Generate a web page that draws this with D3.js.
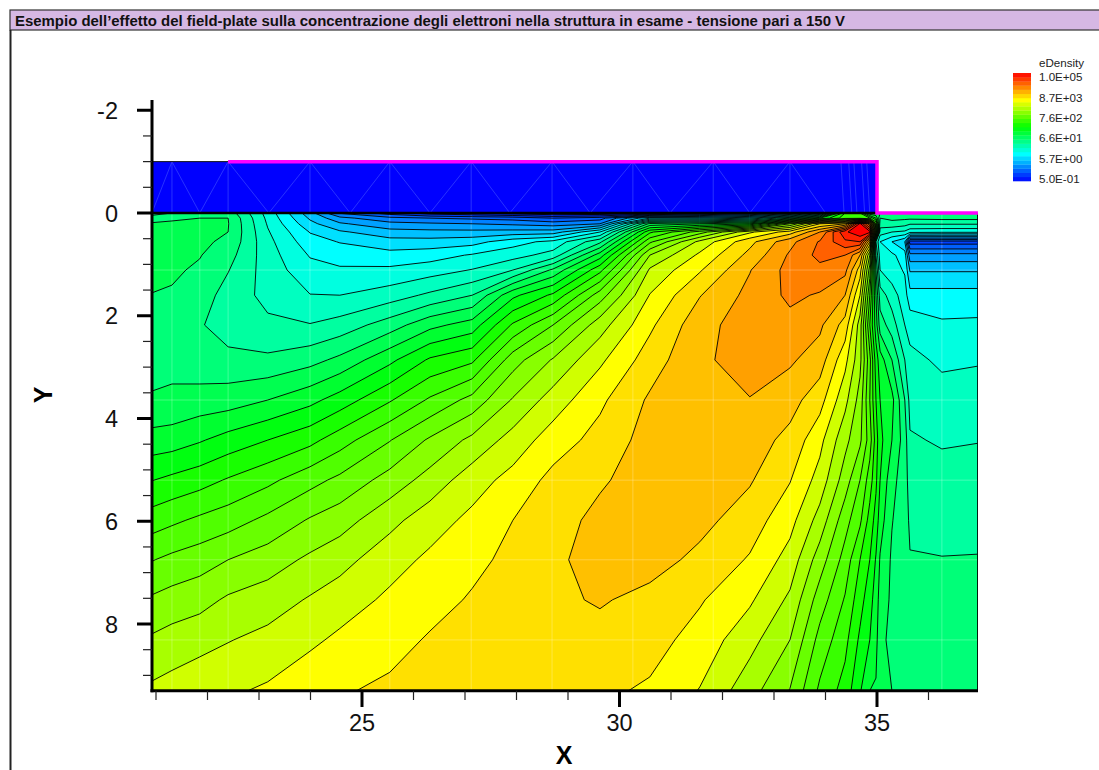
<!DOCTYPE html>
<html><head><meta charset="utf-8">
<script src="https://cdn.jsdelivr.net/npm/d3@7"></script>
<style>html,body{margin:0;padding:0;background:#fff}svg{display:block;font-family:"Liberation Sans",Arial,sans-serif}</style>
</head><body><div id="c"></div>
<script>
const titleText = "Esempio dell\u2019effetto del field-plate sulla concentrazione degli elettroni nella struttura in esame - tensione pari a 150 V";
const legendTitle = "eDensity";
const legendValues = [1.0e5, 8.7e3, 7.6e2, 6.6e1, 5.7, 0.5];
const legendLabels = ["1.0E+05","8.7E+03","7.6E+02","6.6E+01","5.7E+00","5.0E-01"];
const xMajor = [25,30,35];
const xMinor = [21,22,23,24,26,27,28,29,31,32,33,34,36];
const yMajor = [-2,0,2,4,6,8];
const yMinor = [-1.5,-1,-0.5,0.5,1,1.5,2.5,3,3.5,4.5,5,5.5,6.5,7,7.5,8.5,9];

// mesh nodes of the sampled field (device coordinates, µm)
const xNodes = [20.92,21.31,21.85,22.40,23.17,23.99,24.57,25.54,26.32,27.14,27.93,28.71,29.62,30.59,31.56,32.53,33.31,33.89,34.38,34.67,34.86,34.98,35.06,35.29,35.54,35.64,36.26,36.96];
const yNodes = [0,0.10,0.21,0.37,0.56,0.82,1.11,1.60,2.18,2.86,3.64,4.42,5.20,5.98,6.75,7.53,8.31,9.30];

// eDensity in contour-level units, one column per xNode, top to bottom
const fieldColumns = [
[8.5,9.6,10.1,10.3,10.4,10.35,10.2,9.98,9.7,9.65,10.1,11.4,12.97,14.5,15.95,17.15,18.15,19.2],
[9,9.8,10.2,10.4,10.4,10.3,10.15,9.9,9.65,9.7,10.2,11.5,13.25,14.8,16.25,17.4,18.4,19.4],
[9.3,10,10.3,10.3,10.2,10.05,9.85,9.5,9.1,9.4,10.4,11.9,13.6,15.2,16.55,17.65,18.65,19.7],
[9.6,10,10.05,10,9.8,9.4,9.05,8.6,8.5,9.3,10.5,12.4,14.1,15.55,17,18.15,18.95,19.85],
[6.6,6.75,6.9,7.1,7.3,7.45,7.55,7.7,8.2,9.2,11,13,14.75,16.25,17.5,18.5,19.3,20.15],
[3.4,3.85,4.3,4.95,5.4,5.92,6.35,7.03,8.05,9.65,11.7,13.7,15.65,17.1,18.2,19.1,19.8,20.7],
[0.9,2.3,3.15,4.15,4.95,5.55,6.15,7,8.4,10.25,12.45,14.55,16.25,17.55,18.65,19.5,20.2,20.9],
[-0.5,1.3,2.3,3.4,4.4,5.35,6.2,7.5,9.5,11.75,13.9,15.95,17.4,18.7,19.6,20.2,20.65,21.2],
[-1.5,1,2.15,3.3,4.4,5.55,6.55,8.2,10.7,13.15,15.15,17.15,18.4,19.55,20.2,20.65,21.1,21.5],
[-2,0.8,2,3.3,4.6,6.1,7.05,9,11.45,13.8,16.35,18.25,19.55,20.25,20.75,21.1,21.45,21.6],
[-2.5,0.6,1.8,3.4,5.6,6.6,8,11.75,14.15,16.55,18.1,19.4,20.35,21,21.25,21.45,21.55,21.6],
[-3,0,1.5,3.5,6.3,7.4,10.2,13.2,16,18.1,19.45,20.5,21.3,21.55,21.75,21.8,21.75,21.65],
[-3,0.5,2,6,8.75,11.5,13.7,16.5,18.55,19.8,20.8,21.35,21.85,22.3,22.5,22.1,21.65,21.2],
[-2.5,5,10.3,13.8,15.8,18,19.15,20.05,20.8,21.5,22.15,22.4,22.55,22.6,22.4,21.7,21.4,20.85],
[-1,5,11,16.5,19.3,20.2,20.9,21.95,22.65,22.85,22.85,22.7,22.6,22.3,21.75,21.1,20.6,19.95],
[0,6,12,19.8,21.7,22.3,22.95,23.3,23.5,23.35,22.97,22.5,22.1,21.5,20.9,20.15,19.35,18.4],
[2,9,17,21.5,23.7,24.15,24.35,24.2,23.7,23.15,22.4,21.7,21.05,20.35,19.6,18.8,18,16.95],
[5,12,21,24,25.1,25.3,24.7,23.9,23.2,22.5,21.4,20.3,19.6,18.6,17.5,16.5,15.65,14.8],
[14,14.6,22,27.8,26.8,25,24.3,23,21.6,20.3,19.3,18.3,17.5,16.4,15.6,14.9,14.3,13.6],
[14,14.5,28.3,28.8,27,23,21.5,20,18.5,18.3,17.6,17.2,16,15.2,14,13.4,12.8,12.1],
[10,14,24,28.3,22,18,16.5,15,14,15.3,15,15.5,14.5,13.6,13,12.4,12,11],
[10,12,15,16,8,9,10,11,11.5,12.5,13,13.5,13.2,12.6,11.9,11.5,11.3,10.9],
[10,9,8.5,7.5,6,6.5,7,8.5,9.5,11.5,12,12.3,12,11.5,10.9,10.6,10.3,10.3],
[9.5,9.2,8.7,7,5,6.2,6.4,7.5,8.5,10,11.3,11,10.3,10.05,9.85,9.8,9.7,10],
[9.5,9.2,8.4,6.8,4,5.5,5.9,6.4,7,8,9,9.5,9.5,9.4,9.3,9.35,9.4,9.5],
[9.6,9.2,8.1,6.3,-0.5,2.3,3.9,5.4,6.6,7.3,7.7,8.1,8.5,8.85,9.05,9.25,9.4,9.6],
[9.7,9.3,8.1,6.2,-0.5,2.3,3.9,5.4,6.15,6.8,7.45,7.9,8.35,8.7,9.03,9.3,9.5,9.75],
[9.7,9.3,8.1,6.2,-0.5,2.3,3.9,5.4,6.2,6.9,7.55,7.97,8.35,8.7,9.05,9.3,9.5,9.75]
];
// contour levels and the flood colour of the band above each one
const levels = d3.range(-3,29);
const bandColors = ["#0020ff","#0030ff","#0040ff","#0060ff","#0080ff","#00a0ff","#00c0ff","#00e0ff","#00ffff","#00ffe0","#00ffc0","#00ffa0","#00ff78","#00ff50","#00ff30","#00ff10","#18ff00","#38ff00","#50ff00","#68ff00","#88ff00","#a8ff00","#d0ff00","#ffff00","#ffe000","#ffc000","#ffa000","#ff8000","#ff6000","#ff4000","#ff2000","#ff0000"];
const belowColor = "#0010ff";
// structure
const oxideTopY = -1, oxideBottomY = 0, plateStartX = 22.40, oxideEndX = 35;
const meshTop = [21.31,22.40,23.99,25.54,27.12,28.69,30.26,31.82,33.31];
const meshBottom = [20.92,21.85,23.19,24.77,26.32,27.87,29.43,30.98,32.53,34.0];
const fineMesh = [34.3,34.45,34.55,34.7,34.8];
const gridVerticals = [21.31,21.85,22.40,23.99,25.54,27.12,28.69,30.26,31.82,33.31,36.26];
const gridHorizontals = [1.11,3.64,5.20,6.75,8.31];

const W=1099,H=770;
const svg=d3.select("#c").append("svg").attr("width",W).attr("height",H);
const x=d3.scaleLinear().domain([25,35]).range([362,877]);
const y=d3.scaleLinear().domain([0,8]).range([213,624]);
const plot={l:152,r:978,t:y(0),b:y(yNodes[yNodes.length-1])};
const nx=xNodes.length,ny=yNodes.length;
const vals=new Array(nx*ny);
fieldColumns.forEach((col,i)=>col.forEach((v,j)=>{vals[j*nx+i]=v;}));
const gx=d3.scaleLinear().domain(xNodes.map((_,i)=>i+0.5)).range(xNodes.map(d=>x(d))).clamp(true);
const gy=d3.scaleLinear().domain(yNodes.map((_,i)=>i+0.5)).range(yNodes.map(d=>y(d))).clamp(true);
const path=d3.geoPath(d3.geoTransform({point(a,b){this.stream.point(gx(a),gy(b));}}));
const contours=d3.contours().size([nx,ny]).smooth(true).thresholds(levels)(vals);

const defs=svg.append("defs");
defs.append("clipPath").attr("id","fillClip").append("rect").attr("x",plot.l).attr("y",plot.t).attr("width",plot.r-plot.l).attr("height",plot.b-plot.t);
defs.append("clipPath").attr("id","lineClip").append("rect").attr("x",plot.l).attr("y",plot.t).attr("width",plot.r-plot.l-0.7).attr("height",plot.b-plot.t);

const fg=svg.append("g").attr("clip-path","url(#fillClip)");
fg.append("rect").attr("x",plot.l).attr("y",plot.t).attr("width",plot.r-plot.l).attr("height",plot.b-plot.t).attr("fill",belowColor);
fg.selectAll("path").data(contours).join("path").attr("d",path).attr("fill",(d,i)=>bandColors[i]);

// faint mesh
const mg=svg.append("g").attr("clip-path","url(#fillClip)").attr("stroke","#fff").attr("stroke-opacity",0.25).attr("stroke-width",1);
mg.selectAll("line.v").data(gridVerticals).join("line").attr("x1",d=>x(d)).attr("x2",d=>x(d)).attr("y1",plot.t).attr("y2",plot.b);
mg.selectAll("line.h").data(gridHorizontals).join("line").attr("x1",plot.l).attr("x2",plot.r).attr("y1",d=>y(d)).attr("y2",d=>y(d));

const lg=svg.append("g").attr("clip-path","url(#lineClip)");
lg.selectAll("path").data(contours).join("path").attr("d",path).attr("fill","none").attr("stroke","#000").attr("stroke-width",0.9).attr("stroke-linejoin","round");

// oxide
const oxX0=plot.l, oxX1=x(oxideEndX);
svg.append("rect").attr("x",oxX0).attr("y",y(oxideTopY)).attr("width",oxX1-oxX0).attr("height",y(oxideBottomY)-y(oxideTopY)).attr("fill","#0000ff");
const om=svg.append("g").attr("stroke","#3a48ff").attr("stroke-width",0.7);
meshTop.forEach(t=>{
  om.append("line").attr("x1",x(t)).attr("x2",x(t)).attr("y1",y(-1)).attr("y2",y(0));
});
meshTop.forEach((t,i)=>{
  [meshBottom[i],meshBottom[i+1]].forEach(b=>{
    om.append("line").attr("x1",x(t)).attr("x2",x(b)).attr("y1",y(-1)).attr("y2",y(0));
  });
});
fineMesh.forEach(t=>om.append("line").attr("x1",x(t)).attr("x2",x(t+0.06)).attr("y1",y(-1)).attr("y2",y(0)));
// top line of the oxide and metal plate
svg.append("line").attr("x1",oxX0).attr("x2",x(plateStartX)).attr("y1",y(-1)).attr("y2",y(-1)).attr("stroke","#111").attr("stroke-width",1);
svg.append("line").attr("x1",oxX0).attr("x2",oxX1).attr("y1",y(0)).attr("y2",y(0)).attr("stroke","#000").attr("stroke-width",2.5);
const plate=[[plateStartX,-1],[oxideEndX,-1],[oxideEndX,0],[xNodes[nx-1],0]];
svg.append("path").attr("d",d3.line().x(d=>x(d[0])).y(d=>y(d[1]))(plate)).attr("fill","none").attr("stroke","#ff00ff").attr("stroke-width",3.5).attr("stroke-linejoin","miter");

// axes
const ax=svg.append("g");
ax.append("line").attr("x1",152).attr("x2",152).attr("y1",100).attr("y2",plot.b+1.5).attr("stroke","#000").attr("stroke-width",3);
ax.append("line").attr("x1",150.5).attr("x2",plot.r).attr("y1",plot.b).attr("y2",plot.b).attr("stroke","#000").attr("stroke-width",3);
ax.selectAll("line.ym").data(yMajor).join("line").attr("x1",137).attr("x2",152).attr("y1",d=>y(d)).attr("y2",d=>y(d)).attr("stroke","#000").attr("stroke-width",3);
ax.selectAll("line.yn").data(yMinor).join("line").attr("x1",143).attr("x2",152).attr("y1",d=>y(d)).attr("y2",d=>y(d)).attr("stroke","#222").attr("stroke-width",1.2);
ax.selectAll("line.xm").data(xMajor).join("line").attr("y1",plot.b).attr("y2",707).attr("x1",d=>x(d)).attr("x2",d=>x(d)).attr("stroke","#000").attr("stroke-width",3);
ax.selectAll("line.xn").data(xMinor).join("line").attr("y1",plot.b).attr("y2",700).attr("x1",d=>x(d)).attr("x2",d=>x(d)).attr("stroke","#222").attr("stroke-width",1.2);
ax.selectAll("text.yl").data(yMajor).join("text").attr("x",118).attr("y",d=>y(d)+8.5).attr("text-anchor","end").attr("font-size",23.5).attr("fill","#111").text(d=>d);
ax.selectAll("text.xl").data(xMajor).join("text").attr("x",d=>x(d)).attr("y",731).attr("text-anchor","middle").attr("font-size",23.5).attr("fill","#111").text(d=>d);
svg.append("text").attr("transform","translate(52,395) rotate(-90)").attr("text-anchor","middle").attr("font-size",25).attr("font-weight","bold").text("Y");
svg.append("text").attr("x",564).attr("y",764).attr("text-anchor","middle").attr("font-size",25).attr("font-weight","bold").text("X");

// frame and title
svg.append("rect").attr("x",10).attr("y",10).attr("width",W).attr("height",20).attr("fill","#d6b8e4").attr("stroke","#333").attr("stroke-width",1.2);
svg.append("line").attr("x1",10.5).attr("x2",10.5).attr("y1",30).attr("y2",H).attr("stroke","#222").attr("stroke-width",2);
svg.append("text").attr("x",15).attr("y",26).attr("font-size",14.95).attr("font-weight","bold").attr("fill","#111").text(titleText);

// legend
const ly=d3.scaleLog().domain([0.5,1e5]).range([179,77]);
const rainbow=d3.scaleLinear().domain([0,0.25,0.5,0.75,1]).range(["#0000ff","#00ffff","#00ff00","#ffff00","#ff0000"]);
const nBars=26, barTop=73, barBottom=181, barH=(barBottom-barTop)/nBars;
svg.append("g").selectAll("rect").data(d3.range(nBars)).join("rect")
  .attr("x",1013).attr("width",18).attr("y",i=>barBottom-(i+1)*barH).attr("height",barH+0.3)
  .attr("fill",i=>rainbow((i+0.5)/nBars));
svg.append("text").attr("x",1039).attr("y",67).attr("font-size",11.6).attr("fill","#222").text(legendTitle);
svg.append("g").selectAll("text").data(legendValues).join("text").attr("x",1039).attr("y",d=>ly(d)+4.2).attr("font-size",11.6).attr("fill","#222").text((d,i)=>legendLabels[i]);
</script></body></html>
